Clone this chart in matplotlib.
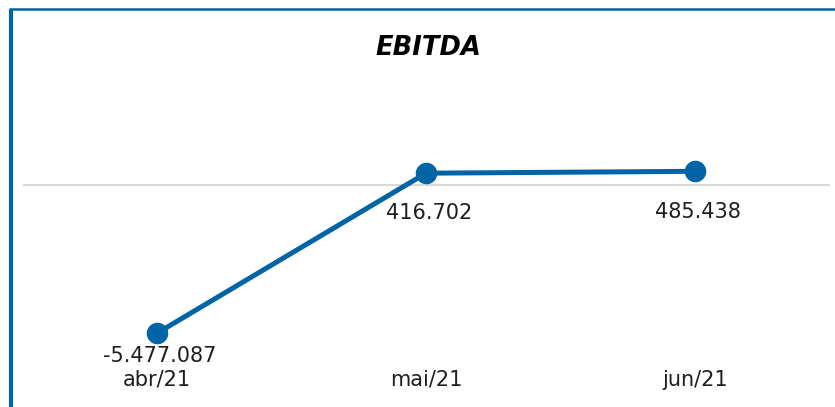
import numpy as np
import matplotlib.pyplot as plt
from matplotlib.lines import Line2D

# data
months = ["abr/21", "mai/21", "jun/21"]
ebitda = [-5477087, 416702, 485438]
value_labels = ["-5.477.087", "416.702", "485.438"]

blue = "#0064A7"
txt = "#1e1e1e"
W, H = 835, 407

fig = plt.figure(figsize=(W / 100, H / 100), dpi=100)
fig.patch.set_facecolor("white")

# plot area in pixel coords (left, top, right, bottom)
pl, pt, pr, pb = 22.5, 70, 829.5, 365
ax = fig.add_axes([pl / W, 1 - pb / H, (pr - pl) / W, (pb - pt) / H])

x = np.arange(len(months))
ax.plot(x, ebitda, color=blue, linewidth=3.6, marker="o", markersize=14.5,
        solid_capstyle="round", zorder=3)
ax.axhline(0, color="#d9d9d9", linewidth=1.5, zorder=1)

ax.set_xlim(-0.5, len(months) - 0.5)
# zero at pixel 184.5, about 27.15 px per million
scale = 27.15 / 1e6
ax.set_ylim(-(pb - 184.5) / scale, (184.5 - pt) / scale)

ax.set_xticks(x)
ax.set_xticklabels(months, fontsize=15, color=txt)
ax.tick_params(axis="x", length=0, pad=3.5)
ax.set_yticks([])
for s in ax.spines.values():
    s.set_visible(False)
ax.patch.set_alpha(0)

# value labels below the points
offsets = [-16.5, -28.5, -29.5]
for xi, yi, lab, off in zip(x, ebitda, value_labels, offsets):
    ax.annotate(lab, (xi, yi), xytext=(2, off), textcoords="offset points",
                ha="center", va="center", fontsize=15, color=txt)

fig.text(428 / W, 1 - 48 / H, "EBITDA", ha="center", va="center",
         fontsize=18.5, fontweight="bold", fontstyle="italic", color="black")

# blue frame on left and top
fig.add_artist(Line2D([11 / W, 11 / W], [0, 1 - 9 / H], color=blue,
                      linewidth=3, solid_capstyle="butt",
                      transform=fig.transFigure))
fig.add_artist(Line2D([9 / W, 1], [1 - 9 / H, 1 - 9 / H], color=blue,
                      linewidth=1.8, solid_capstyle="butt",
                      transform=fig.transFigure))

fig.savefig("out.png", dpi=100)
